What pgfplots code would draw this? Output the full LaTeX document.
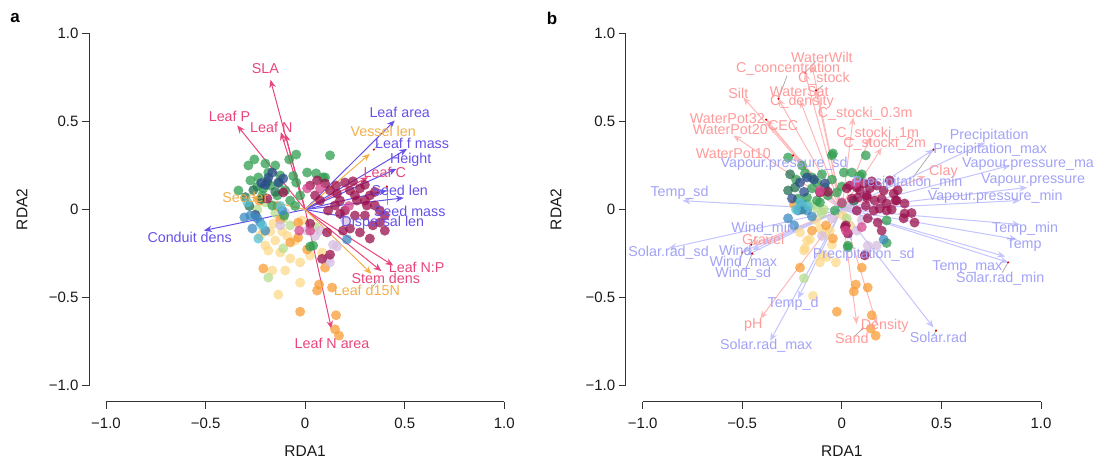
\documentclass[border=0pt]{standalone}
\usepackage{pgfplots}
\pgfplotsset{compat=1.18}
\usepackage{fontspec}
\setmainfont{Liberation Sans}
\usetikzlibrary{arrows.meta}

\definecolor{cMar}{HTML}{9A0F4C}
\definecolor{cPnk}{HTML}{D6478C}
\definecolor{cOra}{HTML}{F89C35}
\definecolor{cYel}{HTML}{FCD98A}
\definecolor{cLgr}{HTML}{B6DE8C}
\definecolor{cGrn}{HTML}{2F9E50}
\definecolor{cDgr}{HTML}{226F4E}
\definecolor{cDbl}{HTML}{2A4A8C}
\definecolor{cBlu}{HTML}{3A89C0}
\definecolor{cCya}{HTML}{56C1D2}
\definecolor{cLav}{HTML}{D6BEE0}
\definecolor{aPink}{HTML}{E8457C}
\definecolor{aBlue}{HTML}{6652E8}
\definecolor{aOra}{HTML}{F2B04A}
\definecolor{bPinkL}{HTML}{FFB8B8}
\definecolor{bBlueL}{HTML}{C4C4FF}
\definecolor{bPinkT}{HTML}{FF9A9A}
\definecolor{bBlueT}{HTML}{A2A2F7}
\definecolor{axc}{HTML}{333333}

\pgfplotsset{
  rda/.style={
    scale only axis, width=398.3pt, height=352.4pt,
    xmin=-1, xmax=1, ymin=-1, ymax=1, clip=false,
    axis x line*=bottom, axis y line*=left,
    axis x line shift=16pt, axis y line shift=17pt,
    axis line style={-, axc, line width=0.8pt},
    every outer x axis line/.append style={-},
    every outer y axis line/.append style={-},
    xtick={-1,-0.5,0,0.5,1}, ytick={-1,-0.5,0,0.5,1},
    xticklabels={−1.0,−0.5,0,0.5,1.0},
    yticklabels={−1.0,−0.5,0,0.5,1.0},
    tick align=outside, major tick length=7pt,
    tick style={axc, line width=0.8pt},
    ticklabel style={font=\fontsize{15}{18}\selectfont, text=black!90},
    xticklabel style={yshift=-6pt},
    xlabel={RDA1}, ylabel={RDA2},
    label style={font=\fontsize{15.5}{18}\selectfont, text=black!90},
    xlabel style={at={(axis description cs:0.5,-0.1853)}, anchor=center},
  },
  pt/.style={only marks, mark=*, mark size=5pt, color=#1,
    mark options={draw=#1, fill=#1, fill opacity=0.75, draw opacity=0}},
  lbl/.style={only marks, mark=*, mark size=0.01pt, color=#1,
    mark options={draw opacity=0, fill opacity=0},
    nodes near coords, point meta=explicit symbolic,
    nodes near coords align={anchor=center},
    nodes near coords style={anchor=center, inner sep=0pt, opacity=1, text opacity=1,
      font=\fontsize{14.3}{16}\selectfont, text=#1}},
  arr/.style={quiver={u=\thisrow{u}, v=\thisrow{v}},
    -{Stealth[length=8pt,width=6.5pt]}, draw=#1, fill=#1, line width=1pt, no markers},
  lead/.style={no markers, draw=gray!80, line width=0.6pt},
  tipdot/.style={only marks, mark=*, mark size=1.2pt, color=red!85!black,
    mark options={draw opacity=0, fill=red!85!black}},
}

\begin{document}
\begin{tikzpicture}[x=1pt,y=1pt]
\useasboundingbox (-106,-73.3) rectangle (988,385.7);
\node[font=\bfseries\fontsize{17}{20}\selectfont, anchor=center] at (-91,367.7) {a};
\node[font=\bfseries\fontsize{17}{20}\selectfont, anchor=center] at (446,367.7) {b};

% ================= Panel a =================
\begin{axis}[rda,
  ylabel style={at={(axis description cs:-0.211,0.5)}, anchor=center}]
% points
\addplot[pt=cYel] coordinates {(-0.21,-0.125) (-0.175,-0.125) (-0.115,-0.125) (-0.15,-0.176) (-0.125,-0.244) (-0.185,-0.233) (-0.075,-0.278) (-0.025,-0.30) (0.025,-0.261) (0.085,-0.244) (-0.025,-0.415) (-0.135,-0.483) (-0.165,-0.346) (-0.10,-0.346) (-0.05,-0.176) (-0.015,-0.062) (-0.225,-0.148) (-0.20,-0.204) (-0.09,-0.15) (-0.16,-0.08)};
\addplot[pt=cLgr] coordinates {(-0.11,-0.22) (-0.185,-0.386) (-0.11,-0.05) (-0.075,-0.09) (-0.15,-0.02) (-0.24,0.0) (-0.20,0.04) (0.05,-0.10)};
\addplot[pt=cOra] coordinates {(-0.21,-0.335) (-0.025,-0.58) (0.01,-0.227) (-0.035,-0.159) (0.10,-0.33) (0.07,-0.426) (0.06,-0.46) (0.135,-0.443) (0.155,-0.60) (0.15,-0.68) (0.17,-0.716) (-0.035,-0.074) (-0.125,-0.057) (-0.075,-0.187) (-0.23,0.05) (-0.14,0.02)};
\addplot[pt=cLav] coordinates {(0.14,-0.20) (0.16,-0.21) (0.115,-0.278) (0.01,-0.12) (0.075,-0.12) (0.125,-0.30) (-0.10,-0.017) (0.20,-0.06) (-0.125,-0.09) (0.05,-0.15)};
\addplot[pt=cGrn] coordinates {(-0.255,0.284) (-0.20,0.261) (-0.045,0.312) (0.125,0.307) (-0.08,0.284) (0.01,0.21) (0.055,0.205) (0.10,0.182) (-0.045,0.153) (-0.235,0.182) (-0.175,0.136) (-0.125,0.193) (-0.10,0.108) (-0.215,0.08) (-0.075,0.051) (-0.165,0.023) (-0.025,0.08) (-0.285,0.25) (-0.15,0.25) (-0.185,0.21) (-0.105,-0.034) (0.025,-0.21) (-0.335,0.108) (-0.275,0.165) (-0.14,0.08) (-0.21,0.12) (0.04,-0.205) (0.09,0.182) (-0.06,0.19) (-0.13,0.15) (-0.24,0.13) (-0.05,0.02)};
\addplot[pt=cDgr] coordinates {(-0.26,0.11) (-0.28,0.02) (-0.22,0.06) (-0.15,0.10) (-0.19,0.16) (-0.30,0.07)};
\addplot[pt=cDbl] coordinates {(-0.185,0.18) (-0.165,0.21) (-0.135,0.153) (-0.11,0.176) (-0.20,0.14) (-0.25,-0.03) (-0.22,0.15)};
\addplot[pt=cBlu] coordinates {(-0.275,-0.034) (-0.225,-0.074) (-0.20,-0.12) (-0.305,-0.045) (-0.265,-0.108) (0.21,-0.17) (-0.115,-0.006) (-0.24,-0.05)};
\addplot[pt=cCya] coordinates {(-0.215,-0.09) (-0.29,0.04) (-0.235,-0.165) (-0.125,0.02)};
\addplot[pt=cMar] coordinates {(0.025,0.136) (0.06,0.165) (0.10,0.148) (0.125,0.108) (0.155,0.136) (0.20,0.153) (0.225,0.108) (0.25,0.08) (0.275,0.12) (0.30,0.051) (0.325,0.08) (0.35,0.023) (0.375,-0.006) (0.40,-0.034) (0.34,-0.09) (0.375,-0.074) (0.30,-0.034) (0.25,-0.034) (0.20,-0.006) (0.175,0.051) (0.15,0.023) (0.075,0.051) (0.05,0.08) (0.115,-0.006) (0.225,-0.108) (0.275,-0.13) (0.325,-0.165) (0.40,-0.12) (0.025,-0.08) (0.125,-0.256) (0.175,-0.023) (0.19,-0.12) (0.31,0.023) (0.26,0.051) (-0.11,0.097) (-0.19,0.062) (0.085,-0.28) (0.11,-0.13) (0.30,0.14) (0.35,0.10) (0.16,0.09) (0.24,0.16)};
\addplot[pt=cPnk] coordinates {(0.01,0.12) (0.025,-0.12) (0.075,0.12) (-0.03,-0.12) (0.22,0.02)};
% leaders
\addplot[lead] coordinates {(0.345,0.34) (0.37,0.375)};
\addplot[lead] coordinates {(0.41,0.13) (0.41,0.023)};
\addplot[lead] coordinates {(0.365,-0.40) (0.335,-0.445)};
\addplot[tipdot] coordinates {(0.345,0.34) (0.41,0.13)};
% arrows
\addplot[arr=aPink] table[row sep=\\] {x y u v\\ 0 0 -0.174 0.736\\ 0 0 -0.341 0.477\\ 0 0 -0.122 0.439\\ 0 0 -0.10 0.43\\ 0 0 0.316 0.183\\ 0 0 0.442 -0.318\\ 0 0 0.383 -0.35\\ 0 0 0.132 -0.677\\};
\addplot[arr=aBlue] table[row sep=\\] {x y u v\\ 0 0 0.450 0.505\\ 0 0 0.512 0.344\\ 0 0 0.459 0.231\\ 0 0 0.41 0.108\\ 0 0 0.495 0.066\\ 0 0 0.21 -0.044\\ 0 0 -0.508 -0.119\\};
\addplot[arr=aOra] table[row sep=\\] {x y u v\\ 0 0 0.325 0.316\\ 0 0 -0.27 0.07\\ 0 0 0.333 -0.365\\};
% labels
\addplot[lbl=aPink] table[col sep=comma, row sep=\\, meta=l] {x,y,l\\ -0.20,0.80,SLA\\ -0.38,0.53,Leaf P\\ -0.17,0.465,Leaf N\\ 0.40,0.21,Leaf C\\ 0.56,-0.33,Leaf N:P\\ 0.405,-0.39,Stem dens\\ 0.135,-0.76,Leaf N area\\};
\addplot[lbl=aBlue] table[col sep=comma, row sep=\\, meta=l] {x,y,l\\ 0.475,0.552,Leaf area\\ 0.537,0.373,Leaf f mass\\ 0.53,0.28,Height\\ 0.475,0.108,Seed len\\ 0.525,-0.01,Seed mass\\ 0.39,-0.075,Dispersal len\\ -0.58,-0.16,Conduit dens\\};
\addplot[lbl=aOra] table[col sep=comma, row sep=\\, meta=l] {x,y,l\\ 0.392,0.444,Vessel len\\ -0.30,0.068,Seeder\\ 0.31,-0.46,Leaf d15N\\};
\end{axis}

% ================= Panel b =================
\begin{axis}[rda, xshift=536.7pt,
  ylabel style={at={(axis description cs:-0.2177,0.5)}, anchor=center}]
\addplot[pt=cYel] coordinates {(-0.21,-0.13) (-0.11,-0.108) (-0.085,-0.136) (-0.185,-0.22) (-0.10,-0.26) (-0.075,-0.27) (0.005,-0.034) (-0.16,-0.17) (-0.05,-0.20) (-0.13,-0.06) (-0.03,-0.30) (-0.145,-0.49) (-0.11,-0.30) (-0.19,-0.233) (-0.175,-0.176) (-0.06,-0.12) (0.04,-0.09)};
\addplot[pt=cLgr] coordinates {(-0.15,0.023) (-0.125,0.006) (0.025,-0.05) (-0.09,0.0) (-0.10,-0.02) (-0.19,-0.39) (-0.18,0.03)};
\addplot[pt=cOra] coordinates {(-0.045,-0.165) (-0.21,-0.33) (0.10,-0.33) (0.07,-0.426) (0.06,-0.465) (0.13,-0.443) (-0.025,-0.58) (0.15,-0.60) (0.145,-0.676) (0.17,-0.716) (-0.08,-0.09) (-0.15,-0.12) (-0.24,0.03)};
\addplot[pt=cLav] coordinates {(0.075,-0.12) (0.10,-0.06) (0.13,-0.205) (0.175,-0.205) (-0.10,-0.15) (-0.05,-0.05) (0.03,0.02) (0.12,-0.25)};
\addplot[pt=cGrn] coordinates {(-0.27,0.295) (-0.05,0.307) (0.12,0.307) (0.01,0.21) (0.05,0.21) (0.10,0.20) (-0.185,0.205) (-0.15,0.182) (-0.125,0.153) (-0.085,0.125) (-0.175,0.068) (-0.11,0.04) (-0.07,0.08) (-0.025,0.097) (-0.035,-0.006) (0.0,0.034) (0.225,-0.062) (0.03,-0.205) (-0.125,0.051) (-0.22,0.062) (-0.20,0.25) (-0.23,0.17) (0.0,0.13) (-0.15,0.12) (-0.10,0.20) (-0.045,0.318) (0.09,0.19) (0.225,-0.19) (0.03,-0.215) (-0.05,0.17)};
\addplot[pt=cDgr] coordinates {(-0.27,0.108) (-0.235,0.125) (-0.20,0.0) (0.06,0.05) (-0.26,0.20)};
\addplot[pt=cDbl] coordinates {(-0.21,0.153) (-0.175,0.182) (-0.085,0.148) (-0.25,0.062) (-0.19,0.10) (-0.14,0.17)};
\addplot[pt=cBlu] coordinates {(-0.27,-0.05) (-0.22,-0.006) (-0.175,-0.006) (0.21,-0.17) (-0.20,0.03) (-0.15,-0.04) (-0.24,-0.09)};
\addplot[pt=cCya] coordinates {(-0.21,0.04) (-0.17,0.02) (-0.23,0.0)};
\addplot[pt=cMar] coordinates {(0.025,0.12) (0.04,0.136) (0.075,0.125) (0.11,0.148) (0.14,0.12) (0.175,0.136) (0.21,0.108) (0.24,0.165) (0.26,0.09) (0.275,0.051) (0.225,0.034) (0.165,0.051) (0.125,0.068) (0.08,0.068) (0.05,0.062) (0.16,-0.006) (0.19,0.006) (0.225,-0.006) (0.315,-0.023) (0.31,-0.05) (0.365,-0.074) (0.18,-0.074) (0.075,-0.006) (-0.11,0.097) (0.015,-0.10) (0.03,-0.136) (0.115,-0.26) (0.315,0.034) (0.20,-0.12) (0.27,0.051) (0.125,0.08) (0.02,-0.09) (0.09,0.11) (0.15,0.16) (0.20,0.06) (0.25,0.0) (0.12,0.02) (0.28,0.11) (0.35,-0.02) (-0.07,0.10) (0.13,-0.05)};
\addplot[pt=cPnk] coordinates {(0.02,-0.12) (0.0,0.04) (-0.11,0.108) (0.07,0.15) (0.10,-0.10)};
% leaders and tip dots
\addplot[lead] coordinates {(-0.135,0.835) (-0.185,0.777)};
\addplot[lead] coordinates {(-0.275,0.76) (-0.318,0.629)};
\addplot[lead] coordinates {(-0.094,0.704) (-0.13,0.676)};
\addplot[lead] coordinates {(0.46,0.34) (0.357,0.182)};
\addplot[lead] coordinates {(0.835,-0.30) (0.805,-0.358)};
\addplot[lead] coordinates {(0.473,-0.687) (0.46,-0.715)};
\addplot[lead] coordinates {(0.105,-0.675) (0.067,-0.716)};
\addplot[lead] coordinates {(-0.50,-0.244) (-0.52,-0.33)};
\addplot[lead] coordinates {(-0.45,-0.25) (-0.48,-0.33)};
\addplot[lead] coordinates {(-0.455,-0.20) (-0.43,-0.15)};
\addplot[tipdot] coordinates {(-0.185,0.777) (-0.318,0.629) (-0.13,0.676) (-0.38,0.51) (-0.245,0.307) (0.46,0.34) (0.835,-0.30) (0.473,-0.687) (0.105,-0.675) (-0.50,-0.244) (-0.45,-0.25) (-0.455,-0.20)};
% arrows
\addplot[arr=bPinkL] table[row sep=\\] {x y u v\\ 0 0 -0.495 0.636\\ 0 0 -0.38 0.51\\ 0 0 -0.545 0.42\\ 0 0 -0.36 0.477\\ 0 0 -0.245 0.307\\ 0 0 -0.21 0.62\\ 0 0 -0.32 0.63\\ 0 0 -0.185 0.777\\ 0 0 -0.13 0.676\\ 0 0 -0.15 0.818\\ 0 0 0.057 0.523\\ 0 0 0.14 0.41\\ 0 0 0.20 0.35\\ 0 0 0.42 0.19\\ 0 0 -0.45 -0.20\\ 0 0 -0.41 -0.62\\ 0 0 0.075 -0.65\\ 0 0 0.175 -0.65\\};
\addplot[arr=bBlueL] table[row sep=\\] {x y u v\\ 0 0 -0.80 0.05\\ 0 0 -0.87 -0.22\\ 0 0 -0.40 -0.19\\ 0 0 -0.45 -0.23\\ 0 0 -0.50 -0.24\\ 0 0 -0.48 -0.26\\ 0 0 -0.22 -0.505\\ 0 0 -0.36 -0.745\\ 0 0 0.05 -0.18\\ 0 0 -0.20 0.20\\ 0 0 0.72 0.38\\ 0 0 0.46 0.34\\ 0 0 0.845 0.25\\ 0 0 0.93 0.125\\ 0 0 0.895 0.051\\ 0 0 0.15 0.12\\ 0 0 0.895 -0.085\\ 0 0 0.88 -0.17\\ 0 0 0.82 -0.267\\ 0 0 0.835 -0.30\\ 0 0 0.46 -0.67\\};
% labels
\addplot[lbl=bPinkT] table[col sep=comma, row sep=\\, meta=l] {x,y,l\\ -0.10,0.863,WaterWilt\\ -0.27,0.80,C\_concentration\\ -0.09,0.744,C\_stock\\ -0.215,0.67,WaterSat\\ -0.20,0.613,C\_density\\ -0.52,0.66,Silt\\ -0.575,0.517,WaterPot32\\ -0.56,0.454,WaterPot20\\ -0.295,0.477,CEC\\ -0.545,0.318,WaterPot10\\ 0.117,0.545,C\_stocki\_0.3m\\ 0.18,0.43,C\_stocki\_1m\\ 0.215,0.375,C\_stocki\_2m\\ 0.51,0.216,Clay\\ -0.395,-0.17,Gravel\\ -0.445,-0.653,pH\\ 0.05,-0.733,Sand\\ 0.215,-0.66,Density\\};
\addplot[lbl=bBlueT] table[col sep=comma, row sep=\\, meta=l] {x,y,l\\ -0.29,0.26,Vapour.pressure\_sd\\ -0.815,0.097,Temp\_sd\\ -0.87,-0.245,Solar.rad\_sd\\ -0.395,-0.11,Wind\_min\\ -0.535,-0.233,Wind\\ -0.495,-0.30,Wind\_max\\ -0.495,-0.364,Wind\_sd\\ -0.245,-0.534,Temp\_d\\ -0.38,-0.773,Solar.rad\_max\\ 0.11,-0.256,Precipitation\_sd\\ 0.74,0.42,Precipitation\\ 0.745,0.34,Precipitation\_max\\ 0.953,0.26,Vapour.pressure\_max\\ 0.96,0.165,Vapour.pressure\\ 0.77,0.074,Vapour.pressure\_min\\ 0.33,0.153,Precipitation\_min\\ 0.92,-0.11,Temp\_min\\ 0.915,-0.20,Temp\\ 0.63,-0.324,Temp\_max\\ 0.795,-0.392,Solar.rad\_min\\ 0.485,-0.727,Solar.rad\\};
\end{axis}
\end{tikzpicture}
\end{document}
